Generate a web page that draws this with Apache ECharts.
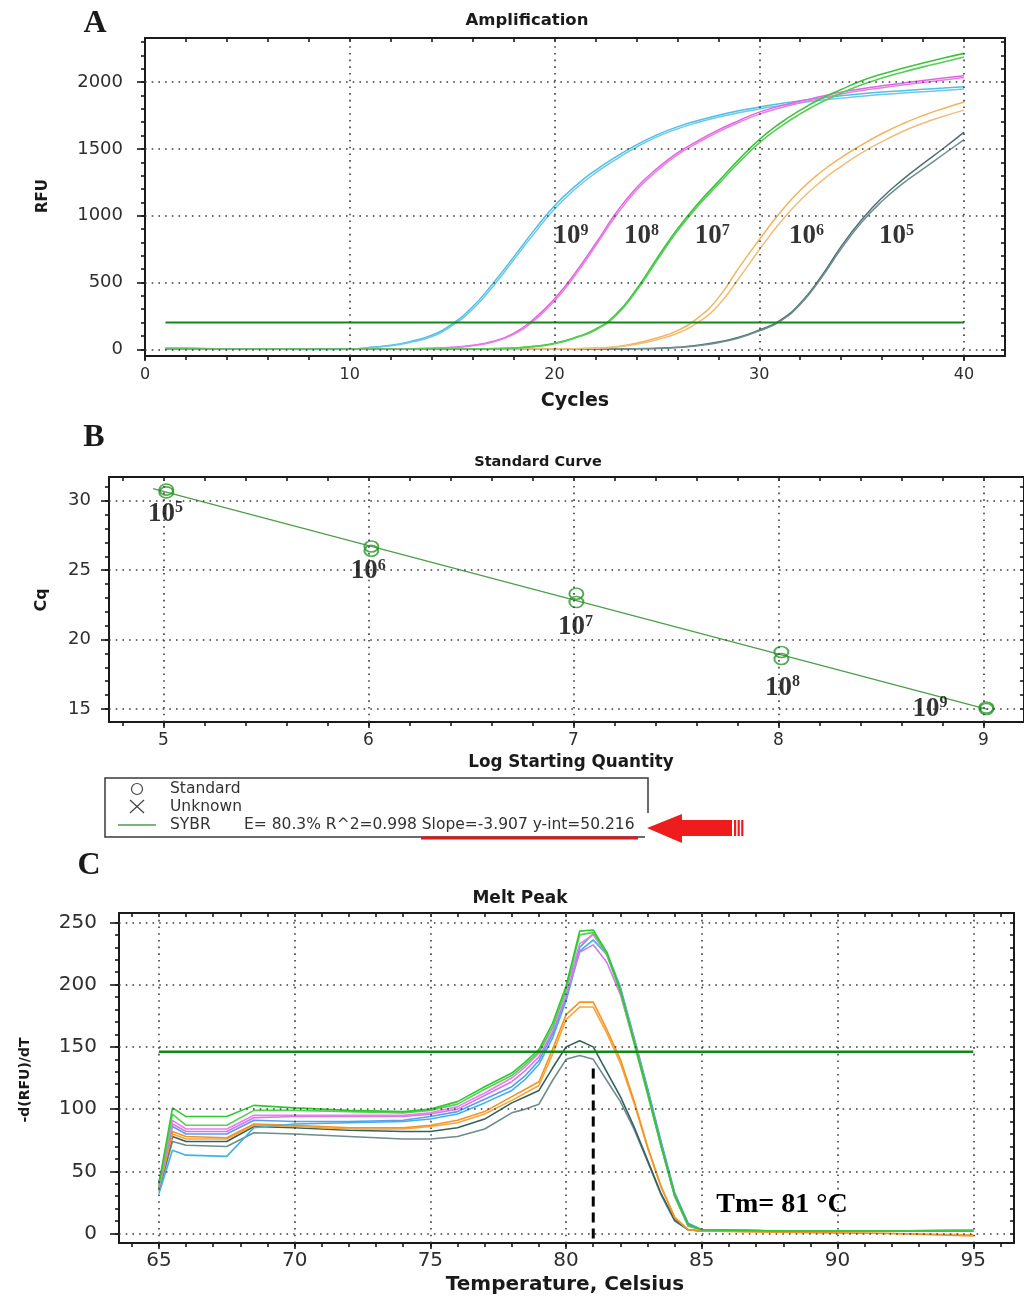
<!DOCTYPE html>
<html>
<head>
<meta charset="utf-8">
<title>qPCR amplification, standard curve and melt peak</title>
<script src="https://cdn.jsdelivr.net/npm/echarts@6/dist/echarts.min.js"></script>
<style>
  html, body { margin: 0; padding: 0; background: #ffffff; }
  #chart { width: 1024px; height: 1297px; }
</style>
</head>
<body>
<div id="chart"></div>
<script>
// ---------------- A: amplification curves (RFU per cycle, two replicates per dilution) ----------------
const cycles = [1, 2, 3, 4, 5, 6, 7, 8, 9, 10, 11, 12, 13, 14, 15, 16, 17, 18, 19, 20,
                21, 22, 23, 24, 25, 26, 27, 28, 29, 30, 31, 32, 33, 34, 35, 36, 37, 38, 39, 40];
const rfu1e9a = [10, 9, 6, 4, 3, 2, 1, 0, 0, 2, 15, 30, 60, 105, 190, 318, 495, 690, 890, 1075,
                 1220, 1340, 1440, 1530, 1605, 1665, 1712, 1752, 1785, 1813, 1838, 1860, 1880, 1897, 1912, 1925, 1936, 1946, 1955, 1965];
const rfu1e9b = [8, 8, 5, 3, 2, 1, 0, -1, -1, 1, 12, 26, 54, 96, 178, 300, 472, 668, 866, 1050,
                 1198, 1320, 1422, 1513, 1590, 1650, 1698, 1738, 1771, 1799, 1823, 1845, 1864, 1880, 1894, 1907, 1918, 1928, 1937, 1948];
const rfu1e8a = [3, 3, 2, 2, 1, 1, 1, 1, 1, 2, 2, 3, 4, 8, 15, 30, 60, 120, 228, 378,
                 570, 790, 1020, 1210, 1352, 1470, 1560, 1642, 1712, 1775, 1820, 1858, 1892, 1925, 1950, 1972, 1992, 2012, 2030, 2048];
const rfu1e8b = [2, 2, 1, 1, 0, 0, 0, 0, 0, 1, 1, 2, 3, 7, 13, 27, 55, 112, 215, 362,
                 552, 772, 1000, 1190, 1335, 1455, 1546, 1628, 1698, 1760, 1806, 1845, 1879, 1911, 1937, 1958, 1978, 1997, 2016, 2035];
const rfu1e7a = [2, 2, 1, 1, 1, 1, 1, 1, 1, 1, 1, 1, 1, 2, 2, 3, 5, 10, 22, 45,
                 88, 150, 262, 450, 680, 900, 1090, 1255, 1420, 1570, 1690, 1790, 1875, 1945, 2010, 2060, 2103, 2143, 2180, 2215];
const rfu1e7b = [1, 1, 0, 0, 0, 0, 0, 0, 0, 0, 0, 0, 1, 1, 2, 2, 4, 9, 20, 42,
                 84, 145, 254, 438, 665, 885, 1072, 1235, 1398, 1545, 1663, 1762, 1847, 1917, 1980, 2030, 2074, 2114, 2150, 2188];
const rfu1e6a = [2, 2, 2, 1, 1, 1, 1, 1, 1, 1, 1, 1, 1, 1, 1, 2, 2, 2, 3, 3,
                 5, 10, 20, 45, 85, 140, 235, 385, 610, 820, 1020, 1190, 1325, 1435, 1530, 1615, 1688, 1750, 1803, 1851];
const rfu1e6b = [1, 1, 1, 0, 0, 0, 0, 0, 0, 0, 0, 0, 0, 0, 1, 1, 1, 2, 2, 3,
                 4, 8, 17, 38, 72, 120, 200, 330, 530, 745, 945, 1115, 1255, 1370, 1470, 1555, 1630, 1692, 1744, 1790];
const rfu1e5a = [0, 0, 0, 0, 0, 0, 0, 0, 0, 0, 0, 0, 0, 0, 0, 0, 1, 1, 1, 1,
                 2, 2, 3, 5, 8, 15, 30, 55, 90, 145, 215, 345, 540, 770, 970, 1135, 1270, 1390, 1505, 1626];
const rfu1e5b = [0, 0, 0, 0, 0, 0, 0, 0, 0, 0, 0, 0, 0, 0, 0, 0, 0, 1, 1, 1,
                 1, 2, 2, 4, 7, 13, 27, 50, 85, 138, 208, 335, 528, 752, 950, 1110, 1240, 1350, 1460, 1570];
const ampThreshold = 200;
const dilutionExp = [9, 8, 7, 6, 5];

// ---------------- B: standard curve ----------------
const logQuantity = [5, 6, 7, 8, 9];
const cqRep1 = [30.8, 26.7, 23.3, 19.1, 15.1];
const cqRep2 = [30.6, 26.4, 22.7, 18.6, 15.0];
const fitEfficiency = 80.3;
const fitR2 = 0.998;
const fitSlope = -3.907;
const fitIntercept = 50.216;
const fitRange = [4.95, 9.02];

// ---------------- C: melt peak (-dRFU/dT per temperature) ----------------
const temps = [65, 65.5, 66, 67.5, 68.5, 70, 72, 74, 75, 76, 77, 78, 78.5, 79, 79.5,
               80, 80.5, 81, 81.5, 82, 82.5, 83, 83.5, 84, 84.5, 85, 88, 92, 95];
const meltGreen1   = [40, 101, 94, 94, 103, 101, 99, 98, 100, 106, 118, 129, 138, 148, 169, 199, 243, 244, 226, 196, 155, 114, 71, 31, 7, 3, 2, 2, 2];
const meltGreen2   = [38, 96, 87, 87, 99, 99, 98, 97, 99, 104, 116, 127, 136, 146, 166, 196, 240, 242, 224, 194, 153, 112, 70, 30, 6, 3, 2, 2, 2];
const meltMagenta1 = [40, 91, 84, 84, 95, 95, 95, 95, 97, 102, 113, 125, 134, 145, 165, 195, 233, 240, 224, 196, 156, 114, 71, 30, 6, 3, 2, 2, 3];
const meltMagenta2 = [36, 88, 82, 82, 93, 94, 94, 94, 96, 100, 111, 122, 131, 142, 162, 191, 226, 232, 218, 192, 154, 113, 70, 30, 6, 3, 2, 2, 3];
const meltBlue1    = [42, 86, 80, 80, 91, 90, 90, 91, 94, 98, 108, 118, 127, 139, 160, 190, 230, 241, 226, 198, 158, 117, 74, 33, 8, 3, 2, 2, 2];
const meltBlue2    = [32, 67, 63, 62, 85, 88, 89, 90, 92, 96, 105, 115, 124, 136, 157, 187, 227, 236, 224, 197, 157, 116, 73, 32, 8, 3, 2, 2, 2];
const meltOrange1  = [38, 82, 78, 77, 88, 87, 85, 85, 87, 91, 98, 110, 116, 122, 148, 176, 186, 186, 164, 140, 107, 70, 38, 13, 3, 2, 1, 0, -2];
const meltOrange2  = [36, 80, 76, 76, 87, 86, 84, 84, 86, 89, 96, 107, 113, 119, 144, 172, 182, 182, 161, 137, 105, 69, 37, 13, 3, 2, 1, 0, -1];
const meltGray1    = [36, 78, 74, 74, 86, 85, 83, 82, 82, 85, 92, 105, 110, 115, 133, 150, 155, 150, 130, 110, 86, 59, 32, 11, 3, 2, 2, 2, 2];
const meltGray2    = [34, 74, 71, 70, 81, 80, 78, 76, 76, 78, 84, 97, 100, 104, 123, 140, 143, 140, 123, 106, 84, 58, 31, 10, 3, 2, 2, 2, 2];
const meltThreshold = 146;
const meltTm = 81;

// ---------------- tick values ----------------
const ampXTicks = [0, 10, 20, 30, 40];
const ampYTicks = [0, 500, 1000, 1500, 2000];
const stdXTicks = [5, 6, 7, 8, 9];
const stdYTicks = [15, 20, 25, 30];
const meltXTicks = [65, 70, 75, 80, 85, 90, 95];
const meltYTicks = [0, 50, 100, 150, 200, 250];

function steps(from, to, step) {
  const out = [];
  for (let v = from; v <= to + 1e-9; v += step) out.push(Math.round(v * 1e6) / 1e6);
  return out;
}

const INK = '#1a1a1a';
const SANS = 'DejaVu Sans';
const SERIF = 'Liberation Serif';

// Three overlaid axes per direction: labelled major ticks, minor ticks, and the opposite frame edge.
function frameAxes(dim, gridIndex, min, max, majors, minors, lab) {
  const isX = dim === 'x';
  const lineStyle = { color: INK, width: 2 };
  const tickStyle = { color: INK, width: 1.6 };
  const base = { type: 'value', gridIndex: gridIndex, min: min, max: max,
                 splitLine: { show: false }, axisPointer: { show: false } };
  return [
    Object.assign({}, base, {
      position: isX ? 'bottom' : 'left',
      axisLine: { show: true, onZero: false, lineStyle: lineStyle },
      axisTick: { show: true, customValues: majors, length: lab.tickLen, lineStyle: tickStyle },
      axisLabel: { show: true, customValues: majors, margin: lab.margin, color: '#2e2e2e',
                   fontFamily: SANS, fontSize: lab.size, hideOverlap: false,
                   formatter: v => String(v) }
    }),
    Object.assign({}, base, {
      position: isX ? 'bottom' : 'left',
      axisLine: { show: false, onZero: false },
      axisTick: { show: true, customValues: minors, length: 4, lineStyle: tickStyle },
      axisLabel: { show: false }
    }),
    Object.assign({}, base, {
      position: isX ? 'top' : 'right',
      axisLine: { show: true, onZero: false, lineStyle: lineStyle },
      axisTick: { show: true, inside: true, customValues: minors, length: 4, lineStyle: tickStyle },
      axisLabel: { show: false }
    })
  ];
}

// each panel owns three x axes and three y axes; the first of each carries the data
const AX_A = 0, AX_B = 3, AX_C = 6;

const xAxes = [].concat(
  frameAxes('x', 0, 0, 42, ampXTicks, steps(0, 40, 2), { tickLen: 5, margin: 11, size: 16 }),
  frameAxes('x', 1, 4.735, 9.198, stdXTicks, steps(4.8, 9, 0.2), { tickLen: 6, margin: 10, size: 17 }),
  frameAxes('x', 2, 63.53, 96.5, meltXTicks, steps(64, 96, 1), { tickLen: 6, margin: 8, size: 20 })
);
const yAxes = [].concat(
  frameAxes('y', 0, -50, 2330, ampYTicks, steps(0, 2300, 100), { tickLen: 8, margin: 22, size: 18 }),
  frameAxes('y', 1, 14.06, 31.71, stdYTicks, steps(15, 31, 1), { tickLen: 8, margin: 18, size: 18 }),
  frameAxes('y', 2, -7.6, 257.6, meltYTicks, steps(0, 250, 10), { tickLen: 9, margin: 22, size: 20 })
);

// dotted grid drawn as mark lines of an invisible helper series
function gridDots(axisIndex, xs, ys, anchor) {
  return {
    type: 'line', xAxisIndex: axisIndex, yAxisIndex: axisIndex, data: [anchor],
    showSymbol: false, lineStyle: { opacity: 0 }, silent: true, z: 1,
    markLine: {
      silent: true, symbol: 'none', label: { show: false }, animation: false,
      lineStyle: { color: '#3c3c3c', width: 1.6, type: [1.6, 5.1] },
      emphasis: { disabled: true },
      data: xs.map(v => ({ xAxis: v })).concat(ys.map(v => ({ yAxis: v })))
    }
  };
}

function curve(axisIndex, xs, ys, color, width, smooth) {
  return {
    type: 'line', xAxisIndex: axisIndex, yAxisIndex: axisIndex,
    data: xs.map((x, i) => [x, ys[i]]),
    showSymbol: false, smooth: smooth,
    lineStyle: { color: color, width: width }, silent: true, z: 3
  };
}

const supRich = {
  b: { fontFamily: SERIF, fontWeight: 'bold', fontSize: 27, color: '#000', lineHeight: 28 },
  s: { fontFamily: SERIF, fontWeight: 'bold', fontSize: 16, color: '#000', lineHeight: 16, verticalAlign: 'top' }
};

function powerLabels(axisIndex, anchors, exps) {
  return {
    type: 'scatter', xAxisIndex: axisIndex, yAxisIndex: axisIndex,
    data: anchors.map((a, i) => [a[0], a[1], exps[i]]),
    symbolSize: 1, itemStyle: { color: 'rgba(0,0,0,0)' }, silent: true, z: 6,
    label: { show: true, position: 'inside', formatter: p => '{b|10}{s|' + p.value[2] + '}', rich: supRich }
  };
}

// label anchors, in data units of each panel
const ampLabelAnchors = [[20.8, 845], [24.25, 845], [27.7, 845], [32.3, 845], [36.7, 845]];
const stdLabelAnchors = [[5.01, 29.06], [6.0, 24.9], [7.01, 20.87], [8.02, 16.53], [8.74, 14.98]];
const stdLabelExp = [5, 6, 7, 8, 9];

const series = [
  // A
  gridDots(AX_A, [10, 20, 30, 40], ampYTicks, [1, 0]),
  curve(AX_A, cycles, rfu1e5a, '#4d7070', 1.5, 0.5),
  curve(AX_A, cycles, rfu1e5b, '#6f8f8f', 1.5, 0.5),
  curve(AX_A, cycles, rfu1e6a, '#f2b35c', 1.5, 0.5),
  curve(AX_A, cycles, rfu1e6b, '#f0bd78', 1.5, 0.5),
  curve(AX_A, cycles, rfu1e9a, '#4fbfe4', 1.5, 0.5),
  curve(AX_A, cycles, rfu1e9b, '#6cc8e6', 1.5, 0.5),
  curve(AX_A, cycles, rfu1e8a, '#e066e0', 1.5, 0.5),
  curve(AX_A, cycles, rfu1e8b, '#e87ee8', 1.5, 0.5),
  curve(AX_A, cycles, rfu1e7a, '#3cc53c', 1.6, 0.5),
  curve(AX_A, cycles, rfu1e7b, '#58cc58', 1.6, 0.5),
  {
    type: 'line', xAxisIndex: AX_A, yAxisIndex: AX_A, data: [[1, ampThreshold], [40, ampThreshold]],
    showSymbol: false, lineStyle: { color: '#15861a', width: 2 }, silent: true, z: 4
  },
  powerLabels(AX_A, ampLabelAnchors, dilutionExp),

  // B
  gridDots(AX_B, stdXTicks, stdYTicks, [5, 30]),
  {
    type: 'line', xAxisIndex: AX_B, yAxisIndex: AX_B,
    data: fitRange.map(x => [x, fitIntercept + fitSlope * x]),
    showSymbol: false, lineStyle: { color: '#4f9d4a', width: 1.3 }, silent: true, z: 3
  },
  {
    name: 'Standard', type: 'scatter', xAxisIndex: AX_B, yAxisIndex: AX_B,
    data: logQuantity.map((x, i) => [x, cqRep1[i]]).concat(logQuantity.map((x, i) => [x, cqRep2[i]])),
    symbol: 'circle', symbolSize: [14, 11], symbolOffset: [3, 0],
    itemStyle: { color: 'rgba(0,0,0,0)', borderColor: '#2a962a', borderWidth: 1.8 }, silent: true, z: 4
  },
  powerLabels(AX_B, stdLabelAnchors, stdLabelExp),

  // C
  gridDots(AX_C, meltXTicks, meltYTicks, [65, 0]),
  curve(AX_C, temps, meltGray2, '#6d8c8c', 1.6, false),
  curve(AX_C, temps, meltGray1, '#34605f', 1.6, false),
  curve(AX_C, temps, meltOrange2, '#f7a53a', 1.6, false),
  curve(AX_C, temps, meltOrange1, '#f29422', 1.6, false),
  curve(AX_C, temps, meltBlue2, '#3db3e6', 1.6, false),
  curve(AX_C, temps, meltBlue1, '#5b9cf0', 1.6, false),
  curve(AX_C, temps, meltMagenta2, '#d27ae8', 1.6, false),
  curve(AX_C, temps, meltMagenta1, '#f07cf0', 1.6, false),
  curve(AX_C, temps, meltGreen2, '#55d255', 1.6, false),
  curve(AX_C, temps, meltGreen1, '#2fc82f', 1.6, false),
  {
    type: 'line', xAxisIndex: AX_C, yAxisIndex: AX_C, data: [[65, meltThreshold], [95, meltThreshold]],
    showSymbol: false, lineStyle: { color: '#15861a', width: 2.5 }, silent: true, z: 4
  },
  {
    type: 'line', xAxisIndex: AX_C, yAxisIndex: AX_C, data: [[meltTm, -4], [meltTm, 136]],
    showSymbol: false, lineStyle: { color: '#000', width: 3, type: [10, 6] }, silent: true, z: 5
  }
];

function txt(x, y, text, font, extra) {
  return Object.assign({
    type: 'text', x: x, y: y, silent: true, z: 10,
    style: Object.assign({
      text: text, font: font, fill: '#1a1a1a',
      align: 'center', verticalAlign: 'middle', textAlign: 'center', textVerticalAlign: 'middle'
    }, (extra && extra.style) || {})
  }, extra ? { rotation: extra.rotation || 0 } : {});
}

const legendStats = 'E= ' + fitEfficiency + '% R^2=' + fitR2 + ' Slope=' + fitSlope + ' y-int=' + fitIntercept;
const legendFont = '15.5px "' + SANS + '"';
const legendLeft = { style: { align: 'left', textAlign: 'left', fill: '#333' } };

const graphics = [
  // panel letters
  txt(95, 24, 'A', 'bold 32px "' + SERIF + '"'),
  txt(94, 438, 'B', 'bold 32px "' + SERIF + '"'),
  txt(89, 866, 'C', 'bold 32px "' + SERIF + '"'),
  // plot titles
  txt(527, 21, 'Amplification', 'bold 16.5px "' + SANS + '"'),
  txt(538, 462, 'Standard Curve', 'bold 14.5px "' + SANS + '"'),
  txt(520, 899, 'Melt Peak', 'bold 17px "' + SANS + '"'),
  // axis names
  txt(575, 401, 'Cycles', 'bold 19px "' + SANS + '"'),
  txt(571, 763, 'Log Starting Quantity', 'bold 16.8px "' + SANS + '"'),
  txt(565, 1285, 'Temperature, Celsius', 'bold 20px "' + SANS + '"'),
  txt(43, 196, 'RFU', 'bold 15px "' + SANS + '"', { rotation: Math.PI / 2 }),
  txt(42, 600, 'Cq', 'bold 16px "' + SANS + '"', { rotation: Math.PI / 2 }),
  txt(25, 1080, '-d(RFU)/dT', 'bold 14px "' + SANS + '"', { rotation: Math.PI / 2 }),
  // melting temperature note
  txt(782, 1205, 'Tm= ' + meltTm + ' \u00B0C', 'bold 28px "' + SERIF + '"', { style: { fill: '#000' } }),
  // legend of the standard curve
  { type: 'rect', shape: { x: 105, y: 778, width: 543, height: 59 }, style: { fill: '#fff', stroke: null }, z: 8, silent: true },
  { type: 'polyline', shape: { points: [[648, 813], [648, 778], [105, 778], [105, 837], [645, 837]] },
    style: { stroke: '#3a3a3a', lineWidth: 1.5, fill: null }, z: 9, silent: true },
  { type: 'circle', shape: { cx: 137, cy: 789, r: 5.5 }, style: { stroke: '#444', lineWidth: 1.2, fill: null }, z: 9, silent: true },
  { type: 'line', shape: { x1: 130, y1: 800, x2: 144, y2: 813 }, style: { stroke: '#444', lineWidth: 1.2 }, z: 9, silent: true },
  { type: 'line', shape: { x1: 130, y1: 813, x2: 144, y2: 800 }, style: { stroke: '#444', lineWidth: 1.2 }, z: 9, silent: true },
  { type: 'line', shape: { x1: 118, y1: 825, x2: 156, y2: 825 }, style: { stroke: '#4f9d4a', lineWidth: 1.5 }, z: 9, silent: true },
  txt(170, 789, 'Standard', legendFont, legendLeft),
  txt(170, 807, 'Unknown', legendFont, legendLeft),
  txt(170, 825, 'SYBR', legendFont, legendLeft),
  txt(244, 825, legendStats, legendFont, legendLeft),
  // red emphasis: underline and arrow
  { type: 'rect', shape: { x: 421, y: 836.5, width: 217, height: 3 }, style: { fill: '#e8141c' }, z: 9, silent: true },
  { type: 'polygon', shape: { points: [[647, 828], [682, 814], [682, 820], [732, 820], [732, 836], [682, 836], [682, 843]] },
    style: { fill: '#ee1c1c' }, z: 9, silent: true },
  { type: 'rect', shape: { x: 734, y: 820, width: 2.2, height: 16 }, style: { fill: '#ee1c1c' }, z: 9, silent: true },
  { type: 'rect', shape: { x: 737.6, y: 820, width: 2.2, height: 16 }, style: { fill: '#ee1c1c' }, z: 9, silent: true },
  { type: 'rect', shape: { x: 741.2, y: 820, width: 2.2, height: 16 }, style: { fill: '#ee1c1c' }, z: 9, silent: true }
];

const chart = echarts.init(document.getElementById('chart'), null, { renderer: 'canvas' });
chart.setOption({
  backgroundColor: '#ffffff',
  animation: false,
  textStyle: { fontFamily: SANS },
  grid: [
    { left: 145, top: 38, width: 860, height: 318, show: false },
    { left: 109, top: 477, width: 915, height: 245, show: false },
    { left: 119, top: 913, width: 895, height: 330, show: false }
  ],
  xAxis: xAxes,
  yAxis: yAxes,
  series: series,
  graphic: { elements: graphics }
});
</script>
</body>
</html>
